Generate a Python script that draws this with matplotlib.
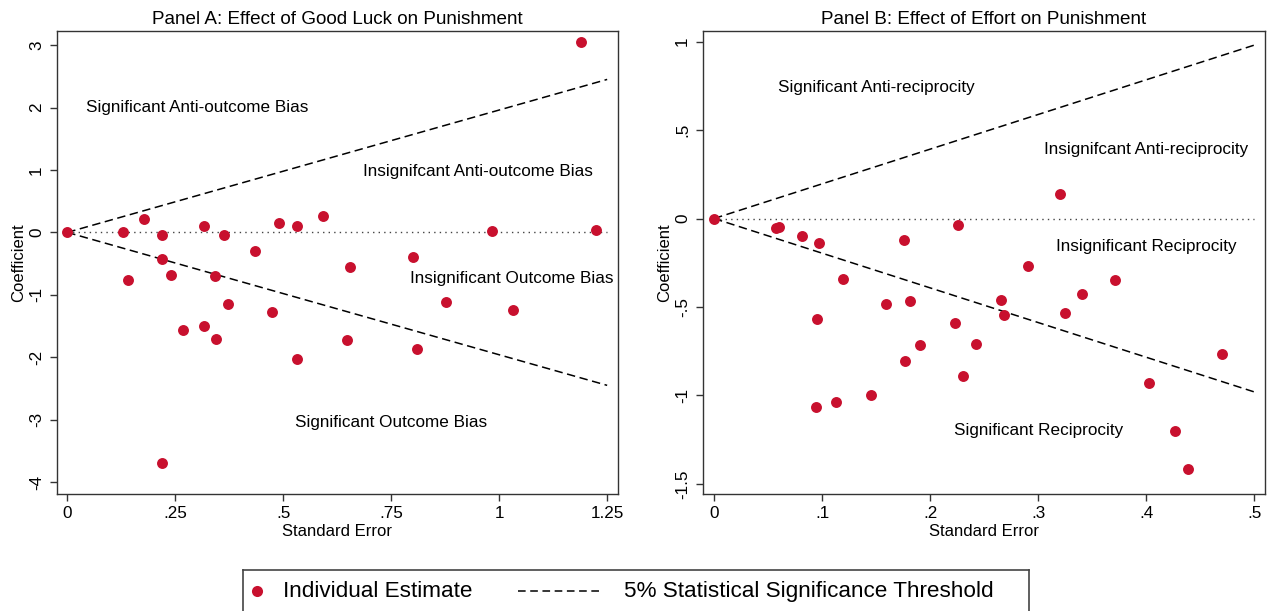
import numpy as np
import matplotlib.pyplot as plt

plt.rcParams['font.family'] = ['Liberation Sans', 'DejaVu Sans']

# Panel A: effect of good luck on punishment (standard error, coefficient)
se_a = [0.0, 0.128, 0.178, 0.220, 0.316, 0.364, 0.434, 0.491, 0.532, 0.591,
        0.219, 0.654, 1.190, 0.983, 1.224, 0.800, 0.141, 0.240, 0.341, 0.373,
        0.474, 0.268, 0.316, 0.344, 0.647, 0.532, 0.219, 0.877, 1.031, 0.810]
coef_a = [0.0, 0.0, 0.22, -0.04, 0.11, -0.04, -0.30, 0.15, 0.11, 0.26,
          -0.42, -0.55, 3.05, 0.02, 0.04, -0.40, -0.77, -0.68, -0.70, -1.14,
          -1.27, -1.57, -1.50, -1.70, -1.72, -2.02, -3.69, -1.11, -1.245, -1.875]

# Panel B: effect of effort on punishment
se_b = [0.0, 0.057, 0.060, 0.0815, 0.097, 0.176, 0.226, 0.320, 0.291, 0.119,
        0.159, 0.181, 0.0957, 0.223, 0.242, 0.191, 0.177, 0.230, 0.145, 0.113,
        0.094, 0.371, 0.341, 0.266, 0.268, 0.325, 0.470, 0.403, 0.427, 0.439]
coef_b = [0.0, -0.055, -0.050, -0.10, -0.14, -0.124, -0.036, 0.138, -0.27, -0.342,
          -0.482, -0.465, -0.567, -0.591, -0.708, -0.714, -0.806, -0.889, -0.998, -1.036,
          -1.068, -0.345, -0.427, -0.463, -0.546, -0.533, -0.765, -0.930, -1.20, -1.418]

xticks_a = [0, 0.25, 0.5, 0.75, 1, 1.25]
xlabels_a = ['0', '.25', '.5', '.75', '1', '1.25']
yticks_a = [-4, -3, -2, -1, 0, 1, 2, 3]
ylabels_a = ['-4', '-3', '-2', '-1', '0', '1', '2', '3']

xticks_b = [0, 0.1, 0.2, 0.3, 0.4, 0.5]
xlabels_b = ['0', '.1', '.2', '.3', '.4', '.5']
yticks_b = [-1.5, -1, -0.5, 0, 0.5, 1]
ylabels_b = ['-1.5', '-1', '-.5', '0', '.5', '1']

z = 1.96
red = '#c8102e'
frame = '#333333'

fig = plt.figure(figsize=(12.71, 6.11), dpi=100)
ax1 = fig.add_axes([0.0446, 0.1915, 0.4416, 0.7578])
ax2 = fig.add_axes([0.5529, 0.1915, 0.4424, 0.7578])


def panel(ax, se, coef, xmax, xt, xl, yt, yl, xlim, ylim, title, notes):
    xs = np.array([0, xmax])
    ax.plot(xs, z * xs, color='black', lw=1.1, dashes=(5.5, 3))
    ax.plot(xs, -z * xs, color='black', lw=1.1, dashes=(5.5, 3))
    ax.plot(xs, 0 * xs, color='#444444', lw=1.0, linestyle=(0, (1, 3)))
    ax.scatter(se, coef, s=62, color=red, zorder=3, linewidths=0)
    ax.set_xlim(xlim)
    ax.set_ylim(ylim)
    ax.set_xticks(xt, xl, fontsize=12.3)
    ax.set_yticks(yt, yl, fontsize=12.3)
    plt.setp(ax.get_yticklabels(), rotation=90, va='center')
    ax.tick_params(direction='out', length=5, width=1, color=frame, pad=4)
    for s in ax.spines.values():
        s.set_color(frame)
        s.set_linewidth(1)
    ax.set_xlabel('Standard Error', fontsize=12, labelpad=2)
    ax.set_ylabel('Coefficient', fontsize=12, labelpad=2)
    ax.set_title(title, fontsize=13.6, pad=5)
    for tx, ty, txt in notes:
        ax.text(tx, ty, txt, fontsize=12.3, ha='center', va='center')


panel(ax1, se_a, coef_a, 1.25, xticks_a, xlabels_a, yticks_a, ylabels_a,
      (-0.0245, 1.275), (-4.19, 3.226),
      'Panel A: Effect of Good Luck on Punishment',
      [(0.30, 2.0, 'Significant Anti-outcome Bias'),
       (0.95, 0.98, 'Insignifcant Anti-outcome Bias'),
       (1.03, -0.74, 'Insignificant Outcome Bias'),
       (0.75, -3.04, 'Significant Outcome Bias')])

panel(ax2, se_b, coef_b, 0.5, xticks_b, xlabels_b, yticks_b, ylabels_b,
      (-0.0105, 0.510), (-1.557, 1.060),
      'Panel B: Effect of Effort on Punishment',
      [(0.15, 0.74, 'Significant Anti-reciprocity'),
       (0.40, 0.39, 'Insignifcant Anti-reciprocity'),
       (0.40, -0.16, 'Insignificant Reciprocity'),
       (0.30, -1.20, 'Significant Reciprocity')])

# legend box drawn by hand at the bottom
lax = fig.add_axes([242.7 / 1271, 0, (1029 - 242.7) / 1271, 41 / 611])
lax.set_xlim(0, 786.3)
lax.set_ylim(41, 0)
lax.set_xticks([])
lax.set_yticks([])
lax.patch.set_alpha(0)
lax.spines['bottom'].set_visible(False)
for k in ['top', 'left', 'right']:
    lax.spines[k].set_color('#444444')
    lax.spines[k].set_linewidth(1.2)
lax.plot([14.3], [21], 'o', color=red, markersize=8, markeredgewidth=0)
lax.text(40.3, 21.5, 'Individual Estimate', fontsize=16.2, va='center')
lax.plot([275.3, 357.3], [21, 21], color='black', lw=1.1, dashes=(5, 3))
lax.text(381.3, 21.5, '5% Statistical Significance Threshold', fontsize=16.2, va='center')

fig.savefig('out.png', dpi=100)
